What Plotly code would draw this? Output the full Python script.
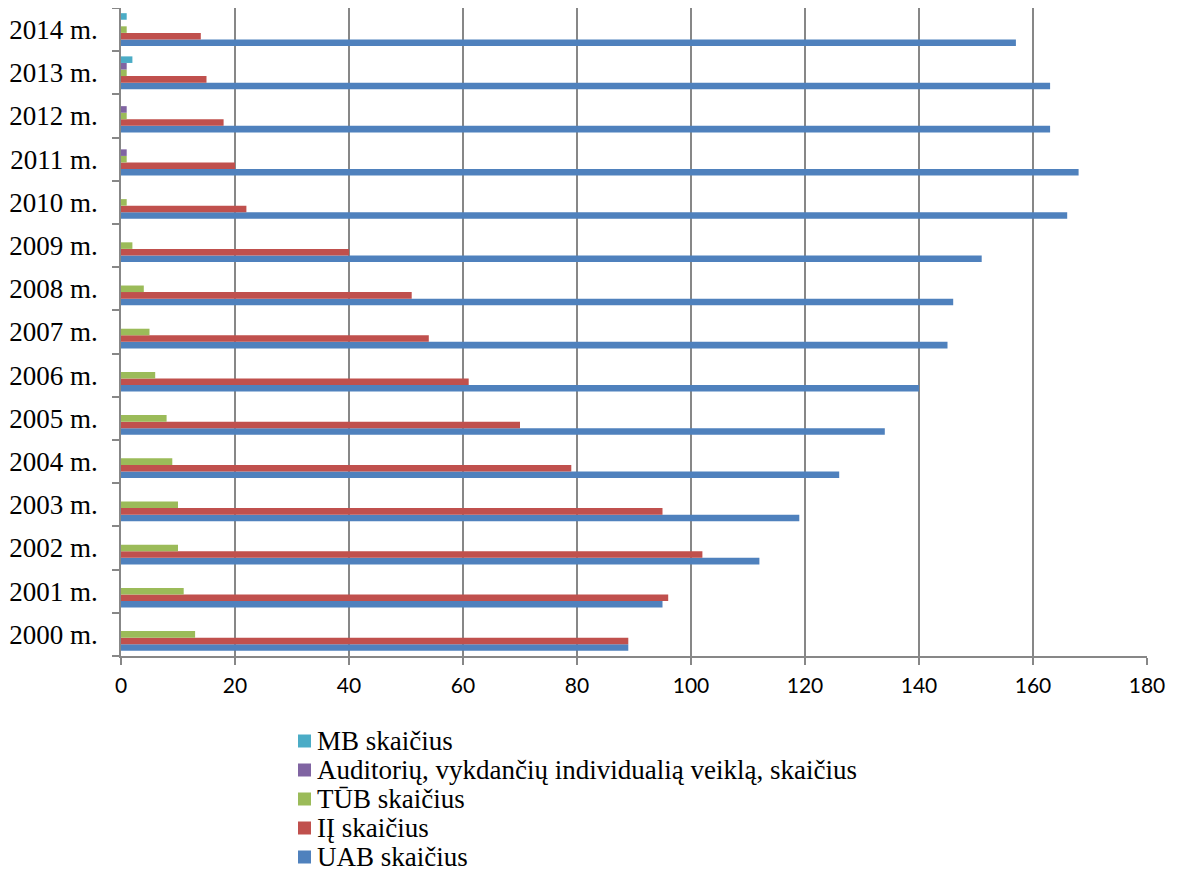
import plotly.graph_objects as go

years = ["2000 m.", "2001 m.", "2002 m.", "2003 m.", "2004 m.", "2005 m.", "2006 m.",
         "2007 m.", "2008 m.", "2009 m.", "2010 m.", "2011 m.", "2012 m.", "2013 m.", "2014 m."]
uab = [89, 95, 112, 119, 126, 134, 140, 145, 146, 151, 166, 168, 163, 163, 157]
ij = [89, 96, 102, 95, 79, 70, 61, 54, 51, 40, 22, 20, 18, 15, 14]
tub = [13, 11, 10, 10, 9, 8, 6, 5, 4, 2, 1, 1, 1, 1, 1]
auditoriai = [0, 0, 0, 0, 0, 0, 0, 0, 0, 0, 0, 1, 1, 1, 0]
mb = [0, 0, 0, 0, 0, 0, 0, 0, 0, 0, 0, 0, 0, 2, 1]

series = [
    ("UAB skaičius", uab, "#4F81BD"),
    ("IĮ skaičius", ij, "#C0504D"),
    ("TŪB skaičius", tub, "#9BBB59"),
    ("Auditorių, vykdančių individualią veiklą, skaičius", auditoriai, "#8064A2"),
    ("MB skaičius", mb, "#4BACC6"),
]

# page offset (body margin) and plot area geometry in page pixels
OFF = 8
PX0, PX1, PY0, PY1 = 121, 1147, 8, 656
W, H = 1172, 868


def px(xp):
    return (xp - PX0) / (PX1 - PX0)


def py(yp):
    return (PY1 - yp) / (PY1 - PY0)


fig = go.Figure()
for name, vals, color in series:
    fig.add_trace(go.Bar(y=years, x=vals, name=name, orientation="h", showlegend=False,
                         marker=dict(color=color, line=dict(width=0))))

# legend drawn manually (Excel-like tight spacing)
shapes = []
annotations = []
row_top = 741
row_step = 29
for i, (name, vals, color) in enumerate(reversed(series)):
    cy = row_top + i * row_step
    shapes.append(dict(type="rect", xref="paper", yref="paper",
                       x0=px(298), x1=px(311), y0=py(cy + 6.5), y1=py(cy - 6.5),
                       fillcolor=color, line=dict(width=0)))
    annotations.append(dict(text=name, xref="paper", yref="paper", x=px(315), y=py(cy),
                            xanchor="left", yanchor="middle", showarrow=False,
                            font=dict(family="Liberation Serif", size=27, color="black")))

fig.update_layout(
    width=W, height=H,
    barmode="group", bargap=0.24, bargroupgap=0,
    plot_bgcolor="white", paper_bgcolor="white",
    margin=dict(l=PX0 - OFF, r=W + OFF - PX1, t=PY0 - OFF, b=H + OFF - PY1, autoexpand=False),
    font=dict(family="Liberation Serif", color="black"),
    showlegend=False,
    shapes=shapes,
    annotations=annotations,
    xaxis=dict(range=[0, 180], dtick=20, tick0=0, showgrid=True, gridcolor="#878787",
               gridwidth=1.5, showline=True, linecolor="#878787", linewidth=1.5,
               ticks="outside", ticklen=7, tickcolor="#878787", tickwidth=1.5,
               zeroline=False, automargin=False, ticklabelstandoff=3,
               tickfont=dict(family="Lato", size=21, color="black")),
    yaxis=dict(showline=True, linecolor="#878787", linewidth=1.5, ticks="outside",
               tickson="boundaries", ticklen=7, tickcolor="#878787", tickwidth=1.5,
               showgrid=False, automargin=False, ticklabelstandoff=16,
               tickfont=dict(family="Liberation Serif", size=27, color="black")),
)

fig.write_html("out.html")
